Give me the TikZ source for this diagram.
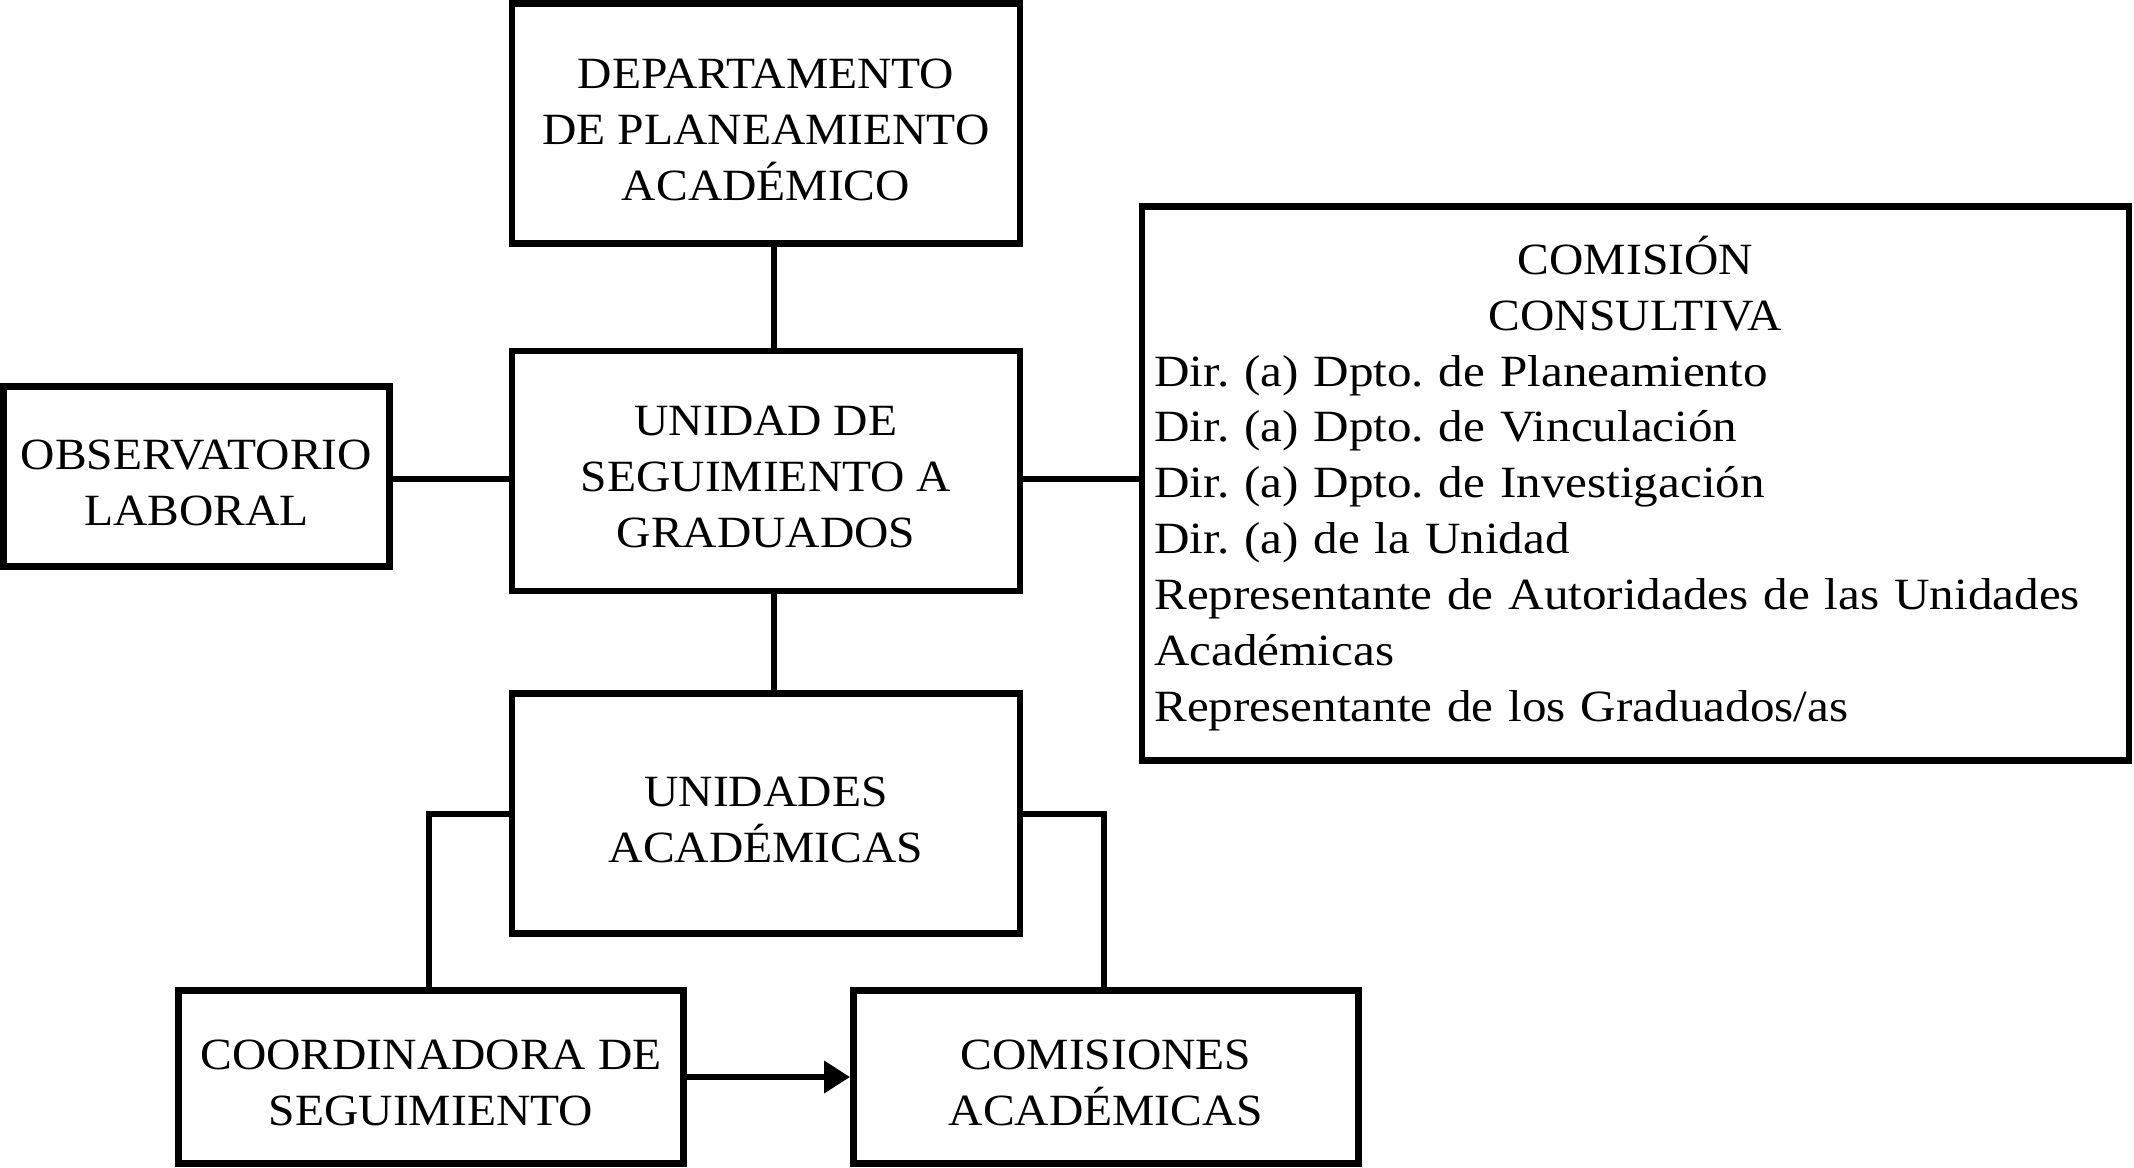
\documentclass[tikz,border=0pt]{standalone}
\usepackage{fontspec}
\setmainfont{Liberation Serif}[FakeStretch=1.065]
\newfontfamily\bodyfont{Liberation Serif}[FakeStretch=1.10]
\usetikzlibrary{arrows.meta}
\begin{document}
\frenchspacing
\begin{tikzpicture}[x=0.01cm,y=-0.01cm,
  lw/.style={line width=0.065cm},
  txt/.style={font=\fontsize{12.7}{15.9}\selectfont},
  box/.style={draw, lw, rectangle, inner sep=0pt, align=center, txt},
  bigbox/.style={box, minimum width=5.08cm, minimum height=2.40cm},
  lowbox/.style={box, minimum width=5.05cm, minimum height=1.73cm},
  conn/.style={lw, line join=miter}]
\newcommand\topstrut{\rule{0pt}{11.9pt}}
\useasboundingbox (0,0) rectangle (2134,1168);
\node[bigbox] (dept) at (766,123.5) {\topstrut DEPARTAMENTO\\DE PLANEAMIENTO\\ACADÉMICO};
\node[bigbox] (unidad) at (766,471) {\topstrut UNIDAD DE\\SEGUIMIENTO A\\GRADUADOS};
\node[bigbox] (unidades) at (766,813.5) {\topstrut UNIDADES\\ACADÉMICAS};
\node[box, minimum width=3.86cm, minimum height=1.80cm] (obs) at (196.5,476.5) {\topstrut OBSERVATORIO\\LABORAL};
\node[lowbox] (coord) at (431,1077) {\topstrut COORDINADORA DE\\SEGUIMIENTO};
\node[lowbox] (comisiones) at (1106,1077) {\topstrut COMISIONES\\ACADÉMICAS};
\node[draw, lw, rectangle, inner xsep=0.12cm, inner ysep=0pt, txt,
      minimum width=9.86cm, minimum height=5.54cm, text width=9.62cm, align=left] (comision) at (1635.5,483.5)
  {\centering COMISIÓN\\CONSULTIVA\par
   \raggedright\bodyfont Dir. (a) Dpto. de Planeamiento\\
   Dir. (a) Dpto. de Vinculación\\
   Dir. (a) Dpto. de Investigación\\
   Dir. (a) de la Unidad\\
   Representante de Autoridades de las Unidades\\
   Académicas\\
   Representante de los Graduados/as\par};
\coordinate (hl) at (0,479);
\coordinate (bl) at (0,814);
\draw[conn] ([xshift=0.08cm]dept.south) -- ([xshift=0.08cm]unidad.north);
\draw[conn] ([xshift=0.08cm]unidad.south) -- ([xshift=0.08cm]unidades.north);
\draw[conn] (obs.east |- hl) -- (unidad.west |- hl);
\draw[conn] (unidad.east |- hl) -- (comision.west |- hl);
\draw[conn] (unidades.west |- bl) -| ([xshift=-0.02cm]coord.north);
\draw[conn] (unidades.east |- bl) -| ([xshift=-0.02cm]comisiones.north);
\draw[conn, -{Triangle[length=0.26cm, width=0.31cm]}] (coord.east) -- (comisiones.west);
\end{tikzpicture}
\end{document}
